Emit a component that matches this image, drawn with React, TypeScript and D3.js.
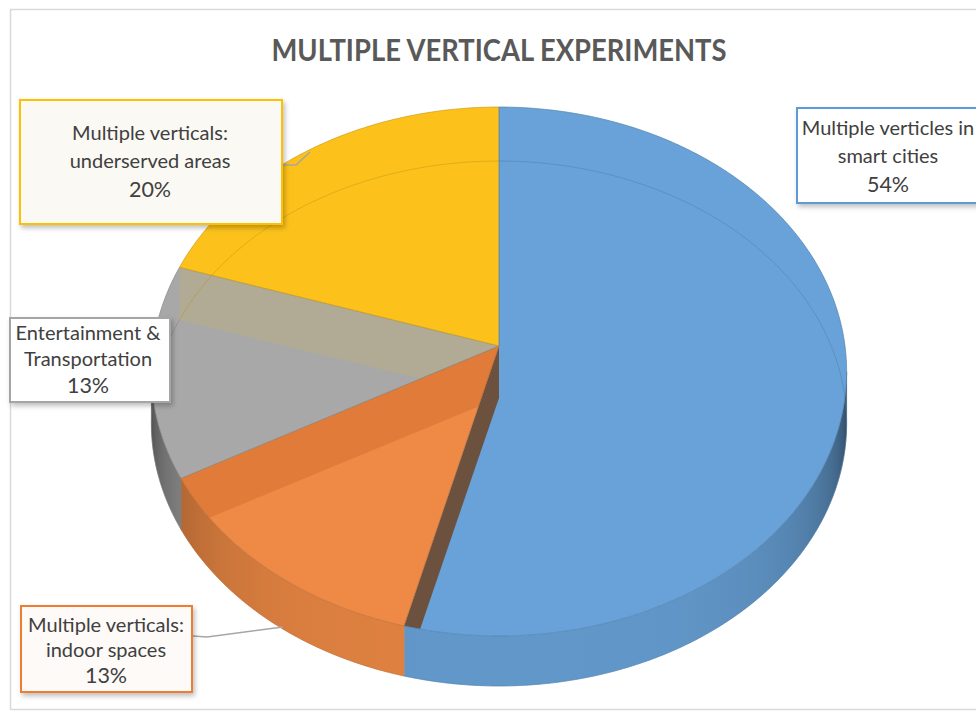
import React from "react";
import * as d3 from "d3";

// ---- data ----
const categories = [
  "Multiple verticles in smart cities",
  "Multiple verticals: indoor spaces",
  "Entertainment & Transportation",
  "Multiple verticals: underserved areas",
];
const values = [54, 13, 13, 20];
const labelLines = [
  ["Multiple verticles in", "smart cities"],
  ["Multiple verticals:", "indoor spaces"],
  ["Entertainment &", "Transportation"],
  ["Multiple verticals:", "underserved areas"],
];
const title = "MULTIPLE VERTICAL EXPERIMENTS";

// ---- styles / layout ----
const W = 976;
const H = 717;
const sliceColors = ["#68A2D8", "#EE8A45", "#A8A8A8", "#FCC21B"];
const borderColors = ["#5B9BD5", "#ED7D31", "#A5A5A5", "#FFC000"];
const boxFills = ["#FFFFFF", "#FDFAF7", "#FFFFFF", "#FBF9F3"];
const wallColors = ["#6C4A32", "#E07A38", "#B2AA93"];
const boxes = [
  { x: 797, y: 108, w: 190, h: 95, cx: 888, base: 135, gap: 28 },
  { x: 21, y: 606, w: 171, h: 86, cx: 106, base: 632, gap: 25 },
  { x: 10, y: 318, w: 160, h: 84, cx: 88, base: 340, gap: 26 },
  { x: 20, y: 100, w: 262, h: 124, cx: 150, base: 140, gap: 28 },
];
const leaders: (number[][] | null)[] = [
  null,
  [[193, 636], [207, 637], [283, 627]],
  null,
  [[283, 165], [296, 165], [310, 152]],
];

const CX = 499, CY = 346, A = 346, B = 262, K = 0.0964;

function proj(theta: number, r: number, z: number): [number, number] {
  const u = r * Math.sin(theta);
  const v = -r * Math.cos(theta);
  const w = 1 - K * v;
  const drop = 52 - 2 * v;
  return [CX + (A * u) / w, CY + (B * v) / w + drop * z];
}

function rim(a0: number, a1: number, z: number): [number, number][] {
  const n = Math.max(2, Math.ceil(Math.abs(a1 - a0) / (Math.PI / 360)));
  const pts: [number, number][] = [];
  for (let i = 0; i <= n; i++) pts.push(proj(a0 + ((a1 - a0) * i) / n, 1, z));
  return pts;
}

function shade(theta: number) {
  const f = -Math.cos(theta);
  return Math.min(0.8, 0.07 + 0.7 * Math.pow(Math.max(0, 1 - f) / 1.1, 1.8));
}

const line = d3.line();

export default function App() {
  const pie = d3.pie<number>().sort(null).startAngle(0).endAngle(2 * Math.PI);
  const arcs = pie(values);

  let rightA = Math.PI / 2, leftA = (3 * Math.PI) / 2;
  {
    let best = -1e9, worst = 1e9;
    for (let t = 0; t < 2 * Math.PI; t += 0.002) {
      const x = proj(t, 1, 0)[0];
      if (x > best) { best = x; rightA = t; }
      if (x < worst) { worst = x; leftA = t; }
    }
  }

  const sides = arcs.map((a, i) => {
    const a0 = Math.max(a.startAngle, rightA);
    const a1 = Math.min(a.endAngle, leftA);
    if (a1 <= a0) return null;
    const top = rim(a0, a1, 0);
    const bot = rim(a0, a1, 1).reverse();
    const xs = [proj(a0, 1, 0)[0], proj(a1, 1, 0)[0]];
    const stops: { off: number; color: string }[] = [];
    const n = 24;
    for (let k = 0; k <= n; k++) {
      const t = a0 + ((a1 - a0) * k) / n;
      const x = proj(t, 1, 0)[0];
      stops.push({
        off: (x - xs[0]) / (xs[1] - xs[0]),
        color: d3.interpolateRgb(sliceColors[i], "#000")(shade(t)),
      });
    }
    return { d: line([...top, ...bot])! + "Z", x1: xs[0], x2: xs[1], stops, i };
  });

  const topPaths = arcs.map((a) => {
    const pts = [proj(0, 0, 0), ...rim(a.startAngle, a.endAngle, 0)];
    return line(pts)! + "Z";
  });

  const walls = arcs.slice(1).map((a, j) => {
    const ang = a.startAngle;
    const pts = [proj(ang, 0, 0), proj(ang, 1, 0), proj(ang, 1, 1), proj(ang, 0, 1)];
    return { d: line(pts)! + "Z", clip: j, color: wallColors[j] };
  });

  const bottomRims = arcs.map((a) => line(rim(a.startAngle, a.endAngle, 1))!);
  const topRims = arcs.map((a) => line(rim(a.startAngle, a.endAngle, 0))!);
  const total = d3.sum(values);

  return (
    <svg
      width={W}
      height={H}
      style={{ position: "absolute", left: 0, top: 0, background: "#fff" }}
      fontFamily="Lato, 'Open Sans', sans-serif"
    >
      <defs>
        <filter id="shadow" x="-10%" y="-10%" width="130%" height="140%">
          <feDropShadow dx="2" dy="3" stdDeviation="2.5" floodColor="#000" floodOpacity="0.25" />
        </filter>
        {topPaths.map((d, i) => (
          <clipPath id={`clip${i}`} key={i}>
            <path d={d} />
          </clipPath>
        ))}
        {sides.map((s, i) =>
          s ? (
            <linearGradient key={i} id={`side${i}`} gradientUnits="userSpaceOnUse" x1={s.x1} y1={0} x2={s.x2} y2={0}>
              {s.stops.map((st, k) => (
                <stop key={k} offset={Math.max(0, Math.min(1, st.off))} stopColor={st.color} />
              ))}
            </linearGradient>
          ) : null
        )}
      </defs>
      <rect x={10.5} y={9.5} width={W} height={700} fill="#fff" stroke="#D9D9D9" strokeWidth={1.5} />
      <text
        x={499}
        y={61}
        textAnchor="middle"
        fontSize={30}
        fontWeight={700}
        fill="#595959"
        textLength={455}
        lengthAdjust="spacingAndGlyphs"
      >
        {title}
      </text>

      {sides.map((s, i) =>
        s ? <path key={i} d={s.d} fill={`url(#side${i})`} stroke={`url(#side${i})`} strokeWidth={0.5} /> : null
      )}
      {topPaths.map((d, i) => (
        <path key={i} d={d} fill={sliceColors[i]} />
      ))}
      {walls.map((w, j) => (
        <path key={j} d={w.d} fill={w.color} fillOpacity={0.92} clipPath={`url(#clip${w.clip})`} />
      ))}
      {bottomRims.map((d, i) => (
        <path
          key={i}
          d={d}
          fill="none"
          stroke={d3.interpolateRgb(sliceColors[i], "#000")(0.25)}
          strokeOpacity={0.45}
          strokeWidth={1}
        />
      ))}
      {topRims.map((d, i) => (
        <path
          key={i}
          d={d}
          fill="none"
          stroke={d3.interpolateRgb(sliceColors[i], "#000")(0.2)}
          strokeOpacity={0.7}
          strokeWidth={1}
        />
      ))}
      {arcs.map((a, i) => {
        const p0 = proj(0, 0, 0);
        const p1 = proj(a.startAngle, 1, 0);
        return (
          <line
            key={i}
            x1={p0[0]}
            y1={p0[1]}
            x2={p1[0]}
            y2={p1[1]}
            stroke={d3.interpolateRgb(sliceColors[i], "#000")(0.3)}
            strokeOpacity={0.6}
            strokeWidth={1}
          />
        );
      })}

      {leaders.map((l, i) =>
        l ? <path key={i} d={line(l as [number, number][])!} fill="none" stroke="#A6A6A6" strokeWidth={1.5} /> : null
      )}

      {arcs.map((a, i) => {
        const b = boxes[i];
        const pct = Math.round((a.value / total) * 100) + "%";
        return (
          <g key={i}>
            <rect
              x={b.x}
              y={b.y}
              width={b.w}
              height={b.h}
              fill={boxFills[i]}
              stroke={borderColors[i]}
              strokeWidth={2}
              filter="url(#shadow)"
            />
            {labelLines[i].map((t, k) => (
              <text key={k} x={b.cx} y={b.base + k * b.gap} textAnchor="middle" fontSize={20} fill="#404040">
                {t}
              </text>
            ))}
            <text x={b.cx} y={b.base + 2 * b.gap + 1} textAnchor="middle" fontSize={21.5} fill="#404040">
              {pct}
            </text>
          </g>
        );
      })}
    </svg>
  );
}
